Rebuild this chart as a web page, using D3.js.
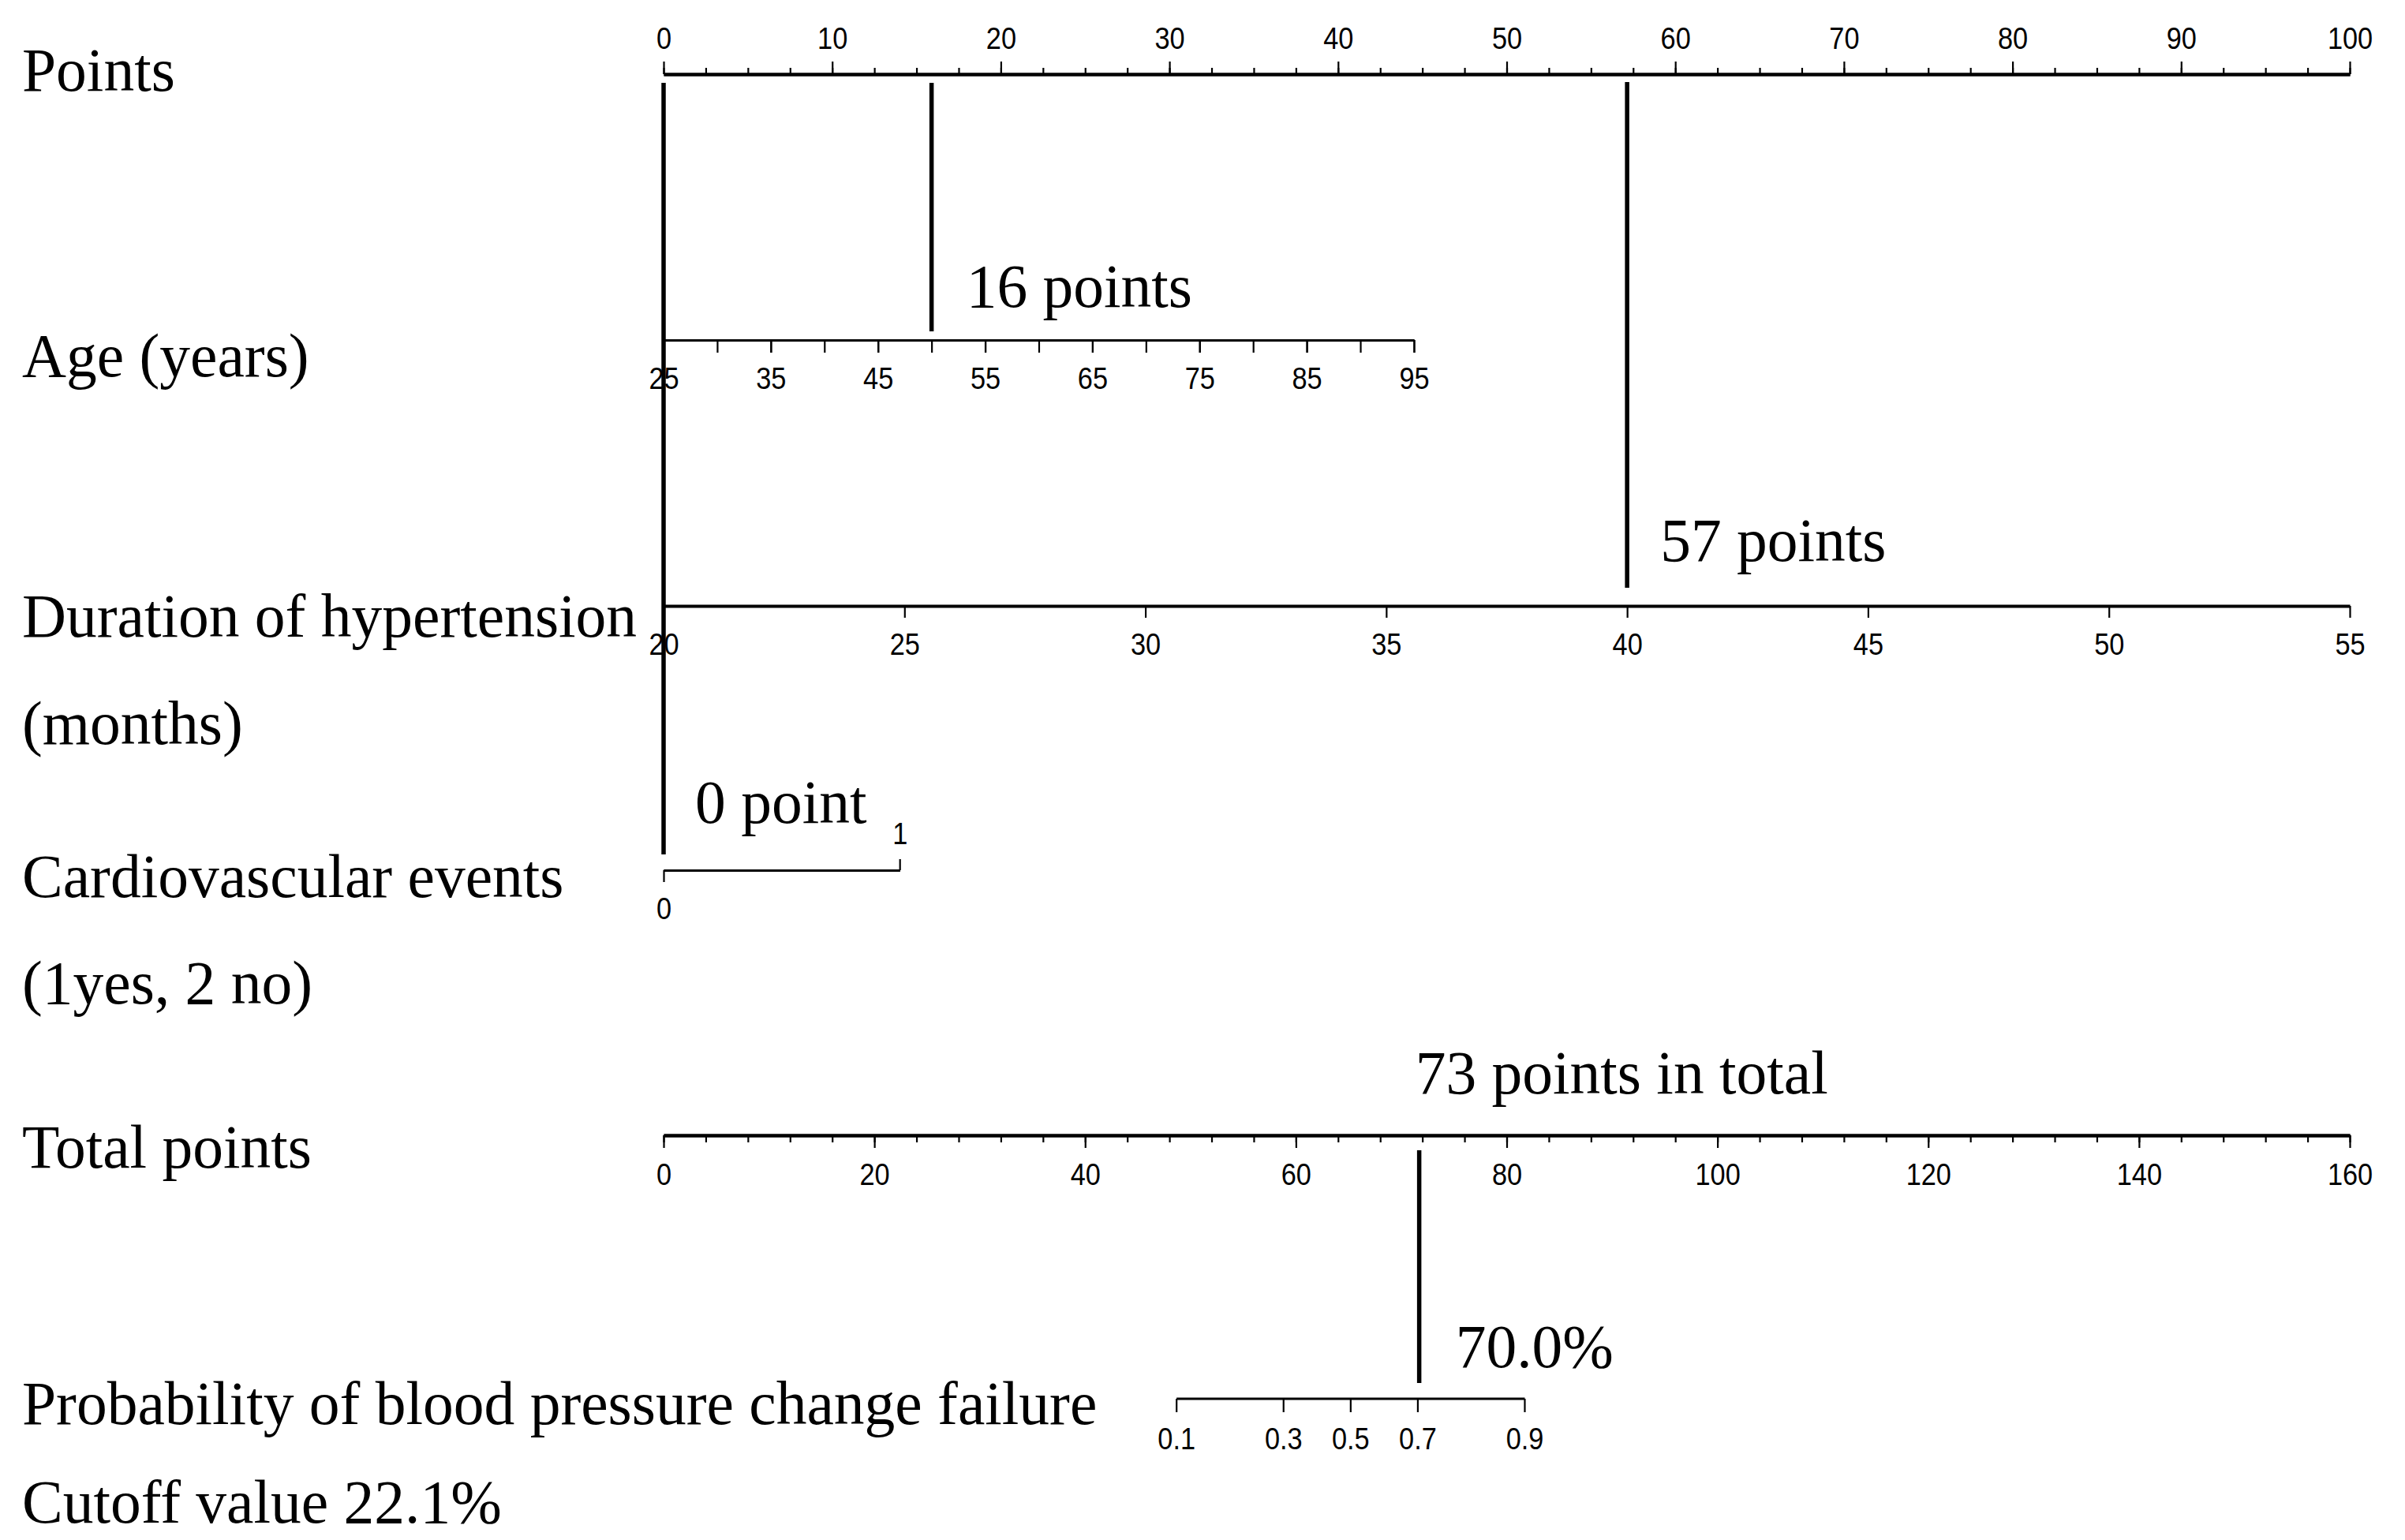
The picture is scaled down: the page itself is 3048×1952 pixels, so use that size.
<!DOCTYPE html>
<html>
<head>
<meta charset="utf-8">
<script src="https://cdn.jsdelivr.net/npm/d3@7"></script>
<style>
  html, body { margin: 0; padding: 0; background: #ffffff; }
  svg { display: block; }
  .lbl { font-family: "Liberation Serif", "Times New Roman", serif; font-size: 77.5px; fill: #000; }
  .tick text { font-family: "Liberation Sans", Arial, sans-serif; font-size: 39px; fill: #000; }
  .tick line { stroke: #000; stroke-width: 2.2px; }
  .domain { stroke: #000; stroke-width: 3.2px; }
</style>
</head>
<body>
<svg id="chart" width="3048" height="1952"></svg>
<script>
// ---------------- data ----------------
const rowLabels = ["Points", "Age (years)", "Duration of hypertension", "(months)",
  "Cardiovascular events", "(1yes, 2 no)", "Total points",
  "Probability of blood pressure change failure", "Cutoff value 22.1%"];

const pointsDomain = [0, 100];
const pointsMajorTicks = [0, 10, 20, 30, 40, 50, 60, 70, 80, 90, 100];
const pointsMinorStep = 2.5;

const ageDomain = [25, 95];
const agePoints = [0, 44.5];
const ageLabelTicks = [25, 35, 45, 55, 65, 75, 85, 95];
const ageAllTicks = [25, 30, 35, 40, 45, 50, 55, 60, 65, 70, 75, 80, 85, 90, 95];

const durationDomain = [20, 55];
const durationPoints = [0, 100];
const durationTicks = [20, 25, 30, 35, 40, 45, 50, 55];

const cardioDomain = [0, 1];
const cardioPoints = [0, 14];
const cardioTicks = [0, 1];

const totalDomain = [0, 160];
const totalMajorTicks = [0, 20, 40, 60, 80, 100, 120, 140, 160];
const totalMinorStep = 4;

const probTicks = [0.1, 0.3, 0.5, 0.7, 0.9];
const probCenterTotal = 65.2;   // total points at probability 0.5
const probSlope = 0.133;        // logit units per total point

const markerVars = ["age", "duration", "cardio", "total"];
const markerValues = [50, 40, 0, 71.7];
const markerLabels = ["16 points", "57 points", "0 point", "73 points in total"];
const probLabel = "70.0%";

// ---------------- layout ----------------
const svg = d3.select("#chart");
const X0 = 841, X1 = 2978;
const Y = { points: 94, age: 431, duration: 768, cardio: 1103, total: 1439, prob: 1773 };
const labelBaselines = [115, 477, 807, 943, 1137, 1272, 1480, 1805, 1930];

const xPoints = d3.scaleLinear().domain(pointsDomain).range([X0, X1]);
const xAge = d3.scaleLinear().domain(ageDomain).range(agePoints.map(xPoints));
const xDur = d3.scaleLinear().domain(durationDomain).range(durationPoints.map(xPoints));
const xCardio = d3.scaleLinear().domain(cardioDomain).range(cardioPoints.map(xPoints));
const xTotal = d3.scaleLinear().domain(totalDomain).range([X0, X1]);
const logit = p => Math.log(p / (1 - p));
const xProb = p => xTotal(probCenterTotal + logit(p) / probSlope);

// left labels
svg.selectAll("text.rowlbl").data(rowLabels).enter().append("text")
  .attr("class", "lbl rowlbl")
  .attr("x", 28)
  .attr("y", (d, i) => labelBaselines[i])
  .text(d => d);

function squish(sel) {
  sel.selectAll(".tick text").attr("transform", "scale(0.88,1)").attr("x", 0);
}

function rangeStep(a, b, s) {
  const out = [];
  for (let v = a; v <= b + 1e-9; v += s) out.push(+v.toFixed(4));
  return out;
}

// Points axis (top)
const gP = svg.append("g").attr("transform", `translate(0,${Y.points})`);
gP.append("g").call(d3.axisTop(xPoints).tickValues(rangeStep(0, 100, pointsMinorStep))
    .tickSize(8).tickSizeOuter(0).tickFormat(""));
gP.append("g").call(d3.axisTop(xPoints).tickValues(pointsMajorTicks)
    .tickSize(16).tickSizeOuter(0).tickPadding(16).tickFormat(d3.format("d")))
  .call(squish);
gP.selectAll(".domain").style("stroke-width", "3.8px");

// Age axis
const gA = svg.append("g").attr("transform", `translate(0,${Y.age})`);
gA.append("g").call(d3.axisBottom(xAge).tickValues(ageAllTicks).tickSize(16).tickSizeOuter(0).tickFormat(""));
gA.append("g").call(d3.axisBottom(xAge).tickValues(ageLabelTicks).tickSize(16).tickSizeOuter(0)
    .tickPadding(18).tickFormat(d3.format("d"))).call(squish);

// Duration axis
const gD = svg.append("g").attr("transform", `translate(0,${Y.duration})`);
gD.append("g").call(d3.axisBottom(xDur).tickValues(durationTicks).tickSize(15).tickSizeOuter(0)
    .tickPadding(19).tickFormat(d3.format("d"))).call(squish);
gD.selectAll(".domain").style("stroke-width", "3.8px");

// Cardiovascular axis: 0 below, 1 above
const gC = svg.append("g").attr("transform", `translate(0,${Y.cardio})`);
gC.append("g").call(d3.axisBottom(xCardio).tickValues([cardioTicks[0]]).tickSize(15).tickSizeOuter(0)
    .tickPadding(19).tickFormat(d3.format("d"))).call(squish);
gC.append("g").call(d3.axisTop(xCardio).tickValues([cardioTicks[1]]).tickSize(14).tickSizeOuter(0)
    .tickPadding(19).tickFormat(d3.format("d"))).call(squish);
gC.selectAll(".domain").style("stroke-width", "2.8px");

// Total points axis
const gT = svg.append("g").attr("transform", `translate(0,${Y.total})`);
gT.append("g").call(d3.axisBottom(xTotal).tickValues(rangeStep(0, 160, totalMinorStep))
    .tickSize(9).tickSizeOuter(0).tickFormat(""));
gT.append("g").call(d3.axisBottom(xTotal).tickValues(totalMajorTicks).tickSize(16).tickSizeOuter(0)
    .tickPadding(19).tickFormat(d3.format("d"))).call(squish);
gT.selectAll(".domain").style("stroke-width", "3.8px");

// Probability axis
const gR = svg.append("g").attr("transform", `translate(0,${Y.prob})`);
gR.append("path").attr("class", "domain").attr("fill", "none")
  .attr("d", `M${xProb(probTicks[0])},0H${xProb(probTicks[probTicks.length - 1])}`);
const pt = gR.selectAll("g.tick").data(probTicks).enter().append("g")
  .attr("class", "tick").attr("transform", d => `translate(${xProb(d)},0)`);
pt.append("line").attr("y2", 17);
pt.append("text").attr("y", 17 + 19).attr("dy", "0.71em").attr("text-anchor", "middle")
  .attr("transform", "scale(0.88,1)").text(d => d3.format(".1f")(d));
gR.selectAll(".domain").style("stroke-width", "2.8px");

// ---------------- markers ----------------
const markerScale = { age: xAge, duration: xDur, cardio: xCardio, total: xTotal };
const markerSpan = { age: [105, 420], duration: [104, 745], cardio: [105, 1083], total: [1458, 1753] };
const markerText = { age: [44, 389], duration: [42, 711], cardio: [40, 1043], total: [-5, 1386] };

markerVars.forEach((v, i) => {
  const x = markerScale[v](markerValues[i]);
  svg.append("line")
    .attr("x1", x).attr("x2", x)
    .attr("y1", markerSpan[v][0]).attr("y2", markerSpan[v][1])
    .attr("stroke", "#000").attr("stroke-width", 5.5);
  svg.append("text").attr("class", "lbl")
    .attr("x", x + markerText[v][0]).attr("y", markerText[v][1])
    .text(markerLabels[i]);
});
// probability annotation next to total marker
svg.append("text").attr("class", "lbl")
  .attr("x", xTotal(markerValues[3]) + 46).attr("y", 1733)
  .text(probLabel);
</script>
</body>
</html>
